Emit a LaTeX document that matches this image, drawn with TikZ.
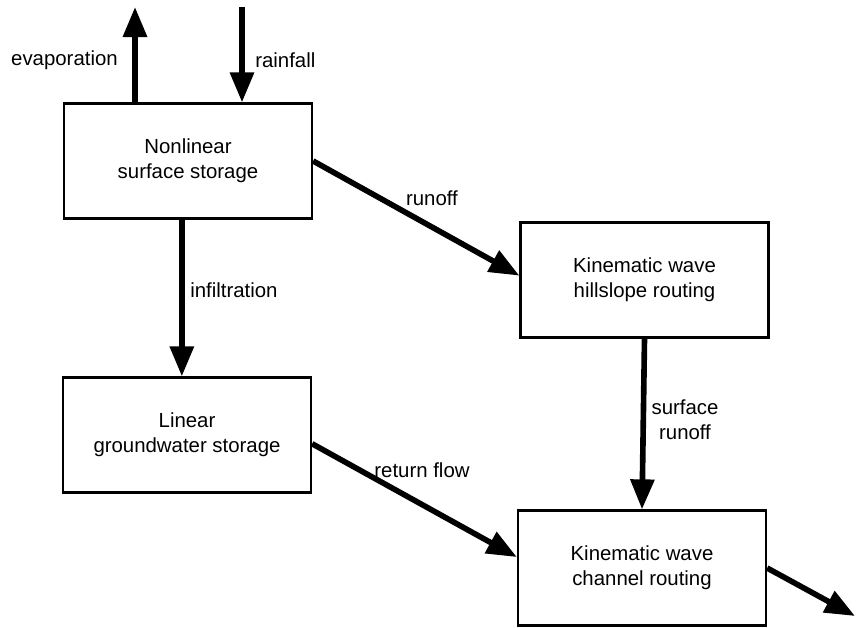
\documentclass[tikz,border=0pt]{standalone}
\usepackage{fontspec}
\setmainfont{Liberation Sans}
\usetikzlibrary{arrows.meta}

\begin{document}
\begin{tikzpicture}[x=0.25mm,y=-0.25mm,font=\fontsize{14.5}{17.8}\selectfont,
  box/.style={draw,line width=1.6pt,align=center,inner sep=0,minimum width=62mm,minimum height=28.75mm},
  flow/.style={line width=4pt,-{Triangle[length=7.5mm,width=5.8mm]}},
  lbl/.style={inner sep=0}]
\useasboundingbox (0,0) rectangle (858,628);
% storages and routing
\node[box] (surf) at (188,161) {Nonlinear\\surface storage};\node[box] (hill) at (644.5,280) {Kinematic wave\\hillslope routing};
\node[box] (gw) at (187,435) {Linear\\groundwater storage};\node[box] (chan) at (642,568) {Kinematic wave\\channel routing};
\coordinate (evap) at (135,7);\coordinate (rain) at (242,7);\coordinate (out) at (855,616);
% fluxes
\draw[flow] (surf.north -| evap) -- (evap);\draw[flow] (rain) -- (rain |- surf.north);
\draw[flow] (surf.east) -- (hill.178);\draw[flow] (surf.-96) -- (surf.-96 |- gw.north);
\draw[flow] (hill.south) -- (chan.north);\draw[flow] (gw.-4) -- (chan.175);\draw[flow] (chan.east) -- (out);
\node[lbl,anchor=east] (evaplbl) at (118,60) {evaporation};\node[lbl,anchor=west] (rainlbl) at (255,60) {rainfall};
\node[lbl] (runofflbl) at (432,198) {runoff};\node[lbl,anchor=west] (inflbl) at (190,290) {infiltration};
\node[lbl,align=center] (srlbl) at (685,420) {surface\\runoff};\node[lbl] (retlbl) at (422,470) {return flow};
\end{tikzpicture}
\end{document}
